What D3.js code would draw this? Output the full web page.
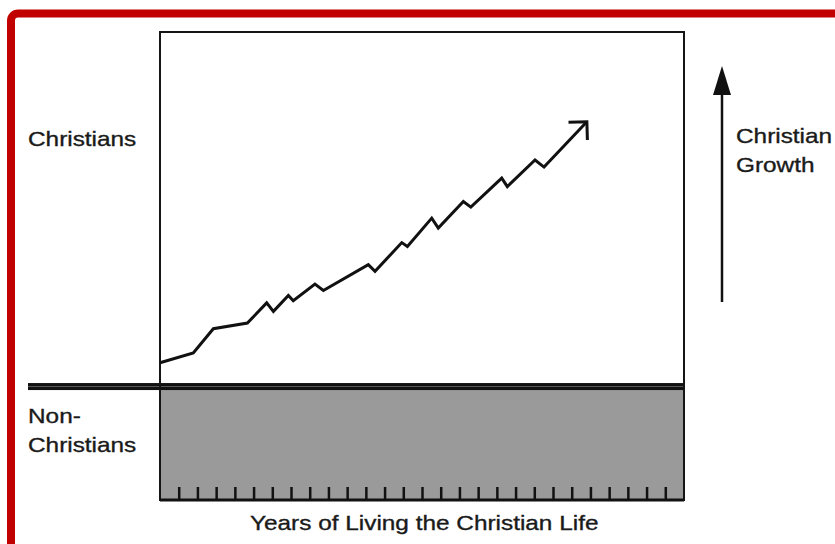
<!DOCTYPE html>
<html>
<head>
<meta charset="utf-8">
<script src="https://cdn.jsdelivr.net/npm/d3@7"></script>
<style>
  body { margin: 0; background: #fff; }
  svg { display: block; }
  text { font-family: "Liberation Sans", Arial, sans-serif; fill: #1a1a1a; stroke: #1a1a1a; stroke-width: 0.35px; }
</style>
</head>
<body>
<div id="chart"></div>
<script>
// years on x, "growth" on y (0 = the line between non-christians and christians)
const years = [0, 1.78, 2.85, 4.67, 5.70, 6.06, 6.86, 7.12, 8.28, 8.73, 11.13, 11.49,
  12.92, 13.22, 14.52, 14.87, 16.21, 16.61, 18.26, 18.56, 20.04, 20.52, 22.81];
const growth = [6.7, 9.5, 16.3, 17.9, 23.6, 21.2, 25.7, 24.2, 28.9, 27.1, 34.4, 32.5,
  40.6, 39.5, 47.5, 44.7, 52.2, 50.6, 58.8, 56.4, 63.9, 61.9, 74.7];
const yearTicks = d3.range(1, 28);
const upperLabel = "Christians";
const lowerLabel = ["Non-", "Christians"];
const sideLabel = ["Christian", "Growth"];
const xTitle = "Years of Living the Christian Life";

const width = 835, height = 544;
const box = { left: 160, right: 684, top: 32, bottom: 500 };

const svg = d3.select("#chart").append("svg")
  .attr("width", width)
  .attr("height", height);

const x = d3.scaleLinear().domain([0, 28]).range([box.left, box.right]);
const y = d3.scaleLinear().domain([-32, 100]).range([box.bottom, box.top]);

// stretch text a little, the original type is wider than arial
function widen(sel, k) {
  sel.each(function() {
    const w = this.getComputedTextLength();
    d3.select(this).attr("textLength", w * k).attr("lengthAdjust", "spacingAndGlyphs");
  });
}

// red frame
svg.append("rect")
  .attr("x", 11).attr("y", 13.5)
  .attr("width", 900).attr("height", 600)
  .attr("rx", 7)
  .attr("fill", "none")
  .attr("stroke", "#c10000")
  .attr("stroke-width", 8);

// non-christian zone
svg.append("rect")
  .attr("x", box.left).attr("y", y(0))
  .attr("width", box.right - box.left)
  .attr("height", box.bottom - y(0))
  .attr("fill", "#9a9a9a");

// dividing double line
svg.append("rect")
  .attr("x", 28).attr("y", y(0) - 3.5)
  .attr("width", box.right - 28).attr("height", 7)
  .attr("fill", "#111");
svg.append("line")
  .attr("x1", 28).attr("x2", box.right)
  .attr("y1", y(0)).attr("y2", y(0))
  .attr("stroke", "#5a5a5a").attr("stroke-width", 1);

// frame of the plot
svg.append("rect")
  .attr("x", box.left).attr("y", box.top)
  .attr("width", box.right - box.left)
  .attr("height", box.bottom - box.top)
  .attr("fill", "none")
  .attr("stroke", "#151515")
  .attr("stroke-width", 2);

// year ticks inside the bottom edge
const xAxis = d3.axisTop(x).tickValues(yearTicks).tickSize(13).tickFormat("");
const gx = svg.append("g")
  .attr("transform", `translate(0,${box.bottom})`)
  .call(xAxis);
gx.select(".domain").remove();
gx.selectAll(".tick line").attr("stroke", "#111").attr("stroke-width", 2.5);
svg.append("line")
  .attr("x1", box.left).attr("x2", box.right)
  .attr("y1", box.bottom).attr("y2", box.bottom)
  .attr("stroke", "#111").attr("stroke-width", 3);

// arrow heads
const defs = svg.append("defs");
defs.append("marker")
  .attr("id", "openHead")
  .attr("markerUnits", "userSpaceOnUse")
  .attr("viewBox", "-16 -16 20 32")
  .attr("refX", 0).attr("refY", 0)
  .attr("markerWidth", 20).attr("markerHeight", 32)
  .attr("orient", "auto")
  .append("path")
  .attr("d", "M-13,-13L0,0L-13,13")
  .attr("fill", "none")
  .attr("stroke", "#111")
  .attr("stroke-width", 3);

// growth line
const line = d3.line()
  .x((d, i) => x(years[i]))
  .y(d => y(d));

svg.append("path")
  .datum(growth)
  .attr("d", line)
  .attr("fill", "none")
  .attr("stroke", "#111")
  .attr("stroke-width", 3)
  .attr("stroke-linejoin", "miter")
  .attr("marker-end", "url(#openHead)");

// christian growth arrow on the right
const ax = 722;
svg.append("line")
  .attr("x1", ax).attr("x2", ax)
  .attr("y1", 302).attr("y2", 92)
  .attr("stroke", "#111").attr("stroke-width", 2.5);
svg.append("path")
  .attr("d", `M${ax},66L${ax - 9},95L${ax + 9},95Z`)
  .attr("fill", "#111");

// labels
const fs = "21px";
svg.append("text").attr("x", 28).attr("y", 146)
  .style("font-size", fs).text(upperLabel).call(widen, 1.16);

svg.selectAll(".lower").data(lowerLabel).enter().append("text")
  .attr("class", "lower")
  .attr("x", 28).attr("y", (d, i) => 423 + i * 29)
  .style("font-size", fs).text(d => d).call(widen, 1.16);

svg.selectAll(".side").data(sideLabel).enter().append("text")
  .attr("class", "side")
  .attr("x", 736).attr("y", (d, i) => 143 + i * 29)
  .style("font-size", fs).text(d => d).call(widen, 1.16);

svg.append("text")
  .attr("x", 250).attr("y", 530)
  .style("font-size", fs).text(xTitle).call(widen, 1.16);
</script>
</body>
</html>
